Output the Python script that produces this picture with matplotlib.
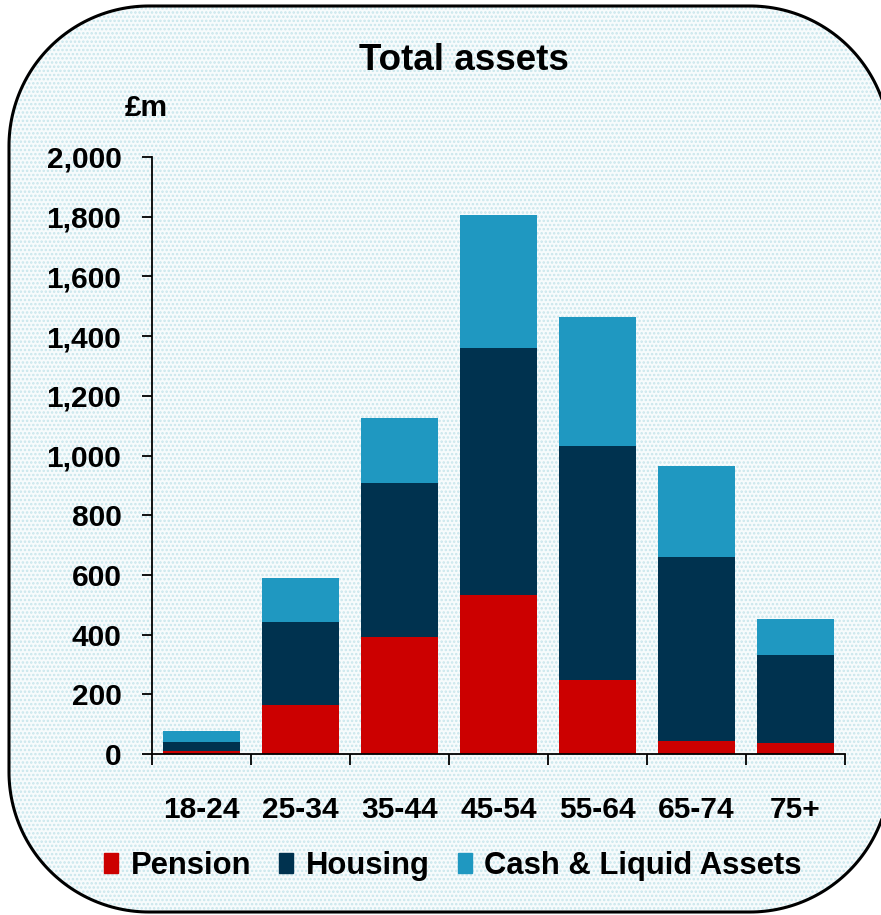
import numpy as np
import matplotlib.pyplot as plt
from matplotlib.patches import Polygon, Patch
from matplotlib.ticker import FuncFormatter, FixedLocator

plt.rcParams['font.family'] = ['Liberation Sans', 'DejaVu Sans']
plt.rcParams['font.weight'] = 'bold'
plt.rcParams['hatch.linewidth'] = 1.2

ages = ['18-24', '25-34', '35-44', '45-54', '55-64', '65-74', '75+']
pension = [10, 164, 392, 533, 248, 44, 37]
housing = [30, 278, 516, 827, 784, 616, 295]
cash = [37, 148, 218, 446, 432, 305, 120]

c_pension = '#cc0000'
c_housing = '#00324f'
c_cash = '#1f98c1'


def rounded_box(x0, y0, x1, y1, r, n=60):
    # outline of a rectangle with circular corners (pixel units, y down)
    pts = []
    corners = [(x1 - r, y0 + r, -90, 0), (x1 - r, y1 - r, 0, 90),
               (x0 + r, y1 - r, 90, 180), (x0 + r, y0 + r, 180, 270)]
    for cx, cy, a0, a1 in corners:
        t = np.radians(np.linspace(a0, a1, n))
        pts.extend(zip(cx + r * np.cos(t), cy + r * np.sin(t)))
    return np.array(pts)


fig = plt.figure(figsize=(8.81, 9.15), dpi=100)

# rounded panel behind the chart, drawn in pixel units
bg = fig.add_axes([0, 0, 1, 1], zorder=0)
bg.set_xlim(0, 881)
bg.set_ylim(915, 0)
bg.axis('off')
outline = rounded_box(9, 6, 890, 912, 140)
bg.add_patch(Polygon(outline, closed=True, facecolor='#f7fbfc',
                     edgecolor='#c8e6ec', hatch='....', linewidth=0))
bg.add_patch(Polygon(outline, closed=True, facecolor='none',
                     edgecolor='black', linewidth=2.2))

ax = fig.add_axes([152 / 881, 1 - 754 / 915, 693 / 881, 597 / 915], zorder=1)
ax.patch.set_visible(False)

x = np.arange(len(ages))
pension = np.array(pension)
housing = np.array(housing)
cash = np.array(cash)
w = 0.77
ax.bar(x, pension, w, color=c_pension, label='Pension')
ax.bar(x, housing, w, bottom=pension, color=c_housing, label='Housing')
ax.bar(x, cash, w, bottom=pension + housing, color=c_cash, label='Cash & Liquid Assets')

ax.set_xlim(-0.5, len(ages) - 0.5)
ax.set_ylim(0, 2000)
ax.set_yticks(range(0, 2001, 200))
ax.yaxis.set_major_formatter(FuncFormatter(lambda v, p: f'{int(v):,}'))
ax.set_xticks(x)
ax.set_xticklabels(ages)
ax.xaxis.set_minor_locator(FixedLocator(np.arange(-0.5, len(ages), 1.0)))

ax.tick_params(axis='y', length=7, width=1.3, pad=15, labelsize=21.5)
ax.tick_params(axis='x', which='major', length=0, pad=30, labelsize=21.5)
ax.tick_params(axis='x', which='minor', length=8, width=1.3)
for s in ['top', 'right']:
    ax.spines[s].set_visible(False)
for s in ['left', 'bottom']:
    ax.spines[s].set_linewidth(1.3)

fig.text(464 / 881, 1 - 61 / 915, 'Total assets', ha='center', va='center',
         fontsize=26.5, fontweight='bold')
fig.text(125 / 881, 1 - 108 / 915, '£m', ha='left', va='center',
         fontsize=21.5, fontweight='bold')

handles = [Patch(color=c_pension), Patch(color=c_housing), Patch(color=c_cash)]
fig.legend(handles, ['Pension', 'Housing', 'Cash & Liquid Assets'],
           loc='center', bbox_to_anchor=(453 / 881, 1 - 866 / 915), ncol=3,
           frameon=False, fontsize=22.3, handlelength=0.46, handleheight=0.65,
           handletextpad=0.4, columnspacing=0.9, borderpad=0)

fig.savefig('out.png', dpi=100)
